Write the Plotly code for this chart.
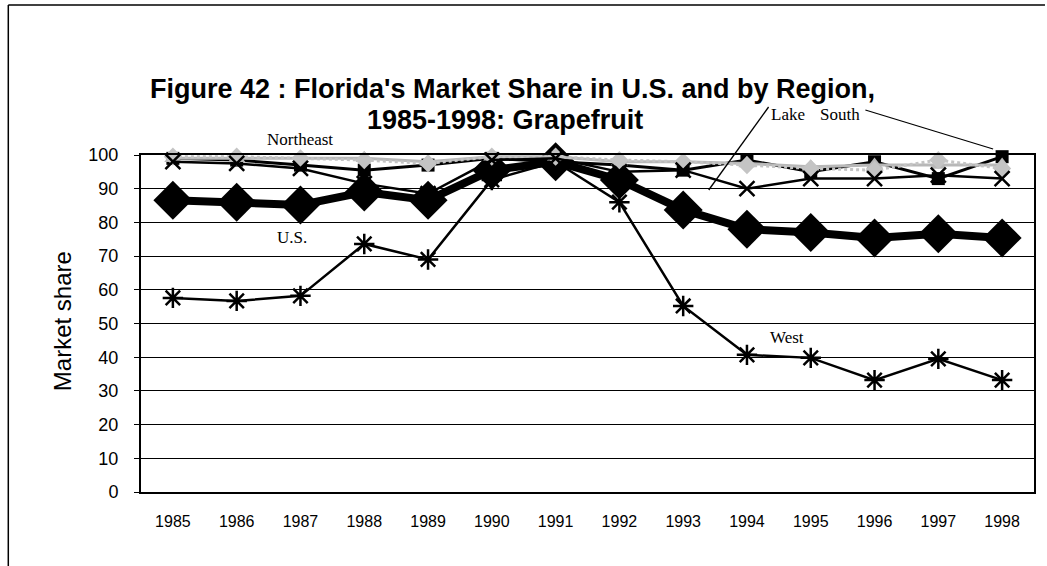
import plotly.graph_objects as go

# Florida's grapefruit market share, 1985-1998
years = list(range(1985, 1999))
us = [86.6, 86.0, 85.2, 89.0, 86.6, 95.5, 98.0, 92.6, 83.7, 78.0, 77.0, 75.4, 76.6, 75.4]
west = [57.6, 56.7, 58.2, 73.6, 69.0, 92.6, 98.0, 86.0, 55.2, 40.7, 39.8, 33.2, 39.5, 33.2]
lake = [98.0, 97.5, 96.0, 91.5, 88.5, 98.5, 99.0, 95.0, 95.5, 90.0, 93.0, 93.0, 94.0, 93.0]
south = [99.0, 98.5, 97.0, 95.5, 97.0, 99.0, 98.0, 97.0, 95.5, 98.5, 95.0, 98.0, 93.0, 99.5]
northeast = [99.5, 99.5, 99.0, 98.5, 97.5, 99.5, 99.5, 98.5, 98.0, 97.0, 96.0, 95.5, 98.5, 96.0]
midwest = [99.0, 99.0, 99.0, 99.0, 98.0, 99.5, 99.5, 98.0, 98.0, 97.5, 96.5, 97.0, 97.0, 97.0]

W, H = 1047, 566
L, R, T, B = 141, 11, 155, 74
PW, PH = W - L - R, H - T - B


def px(x):
    return (x - L) / PW


def py(y):
    return (H - B - y) / PH


fig = go.Figure()

fig.add_trace(go.Scatter(
    x=years, y=us, name="U.S.", mode="lines+markers", cliponaxis=False,
    line=dict(color="black", width=8),
    marker=dict(symbol="diamond", size=30, color="black"),
))
fig.add_trace(go.Scatter(
    x=years, y=west, name="West", mode="lines+markers", cliponaxis=False,
    line=dict(color="black", width=2.5),
    marker=dict(symbol="asterisk-open", size=17, line=dict(color="black", width=2.5)),
))
fig.add_trace(go.Scatter(
    x=years, y=south, name="South", mode="lines+markers", cliponaxis=False,
    line=dict(color="black", width=3),
    marker=dict(symbol="square", size=13, color="black"),
))
fig.add_trace(go.Scatter(
    x=years, y=midwest, name="Midwest", mode="lines+markers", cliponaxis=False,
    line=dict(color="#b8b8b8", width=3),
    marker=dict(symbol="triangle-up", size=15, color="#b8b8b8"),
))
fig.add_trace(go.Scatter(
    x=years, y=northeast, name="Northeast", mode="lines+markers", cliponaxis=False,
    line=dict(color="#c4c4c4", width=3, dash="dot"),
    marker=dict(symbol="diamond", size=14, color="#c4c4c4"),
))
fig.add_trace(go.Scatter(
    x=years, y=lake, name="Lake", mode="lines+markers", cliponaxis=False,
    line=dict(color="black", width=2.5),
    marker=dict(symbol="x-thin-open", size=15, line=dict(color="black", width=2.5)),
))

serif = dict(family="Liberation Serif", size=17, color="black")
labels = [
    ("Northeast", 300, 140),
    ("U.S.", 292, 237),
    ("West", 788, 337),
    ("Lake", 789, 115),
    ("South", 842, 115),
]
annotations = [
    dict(text=t, x=px(x), y=py(y), xref="paper", yref="paper",
         showarrow=False, font=serif, xanchor="center", yanchor="middle")
    for t, x, y in labels
]

title_font = dict(family="Liberation Sans", size=27, color="black")
title_lines = [
    ("<b>Figure 42 : Florida's Market Share in U.S. and by Region,</b>", 513, 89),
    ("<b>1985-1998: Grapefruit</b>", 506, 120),
]
for t, x, y in title_lines:
    annotations.append(dict(
        text=t, x=px(x), y=py(y), xref="paper", yref="paper", showarrow=False,
        font=title_font, xanchor="center", yanchor="middle",
    ))

# vertical axis title
annotations.append(dict(
    text="Market share", x=px(62), y=py(321), xref="paper", yref="paper",
    showarrow=False, textangle=-90,
    font=dict(family="Liberation Sans", size=24, color="black"),
    xanchor="center", yanchor="middle",
))

line_style = dict(color="black", width=1.3)
shapes = [
    # leader lines from region labels
    dict(type="line", xref="paper", yref="paper",
         x0=px(770), y0=py(107), x1=px(710), y1=py(190), line=line_style),
    dict(type="line", xref="paper", yref="paper",
         x0=px(867), y0=py(110), x1=px(995), y1=py(149), line=line_style),
    # outer frame
    dict(type="line", xref="paper", yref="paper",
         x0=px(8), y0=py(5), x1=px(1047), y1=py(5), line=dict(color="black", width=1.5)),
    dict(type="line", xref="paper", yref="paper",
         x0=px(8), y0=py(5), x1=px(8), y1=py(566), line=dict(color="black", width=1.5)),
]

fig.update_layout(
    width=W, height=H,
    margin=dict(l=L, r=R, t=T, b=B),
    paper_bgcolor="white", plot_bgcolor="white",
    showlegend=False,
    annotations=annotations,
    shapes=shapes,
    font=dict(family="Liberation Sans", color="black"),
    xaxis=dict(
        range=[1984.5, 1998.5], tickmode="array", tickvals=years,
        ticktext=[str(y) for y in years],
        showgrid=False, zeroline=False,
        showline=True, linecolor="black", linewidth=1.5, mirror=True,
        ticks="", ticklabelstandoff=14,
        tickfont=dict(family="Liberation Sans", size=16, color="black"),
    ),
    yaxis=dict(
        range=[0, 100], dtick=10, tick0=0,
        showgrid=True, gridcolor="black", gridwidth=1, zeroline=False,
        showline=True, linecolor="black", linewidth=2, mirror=True,
        ticks="outside", ticklen=5, tickcolor="black", ticklabelstandoff=12,
        tickfont=dict(family="Liberation Sans", size=18, color="black"),
    ),
)

fig.write_html("out.html")
